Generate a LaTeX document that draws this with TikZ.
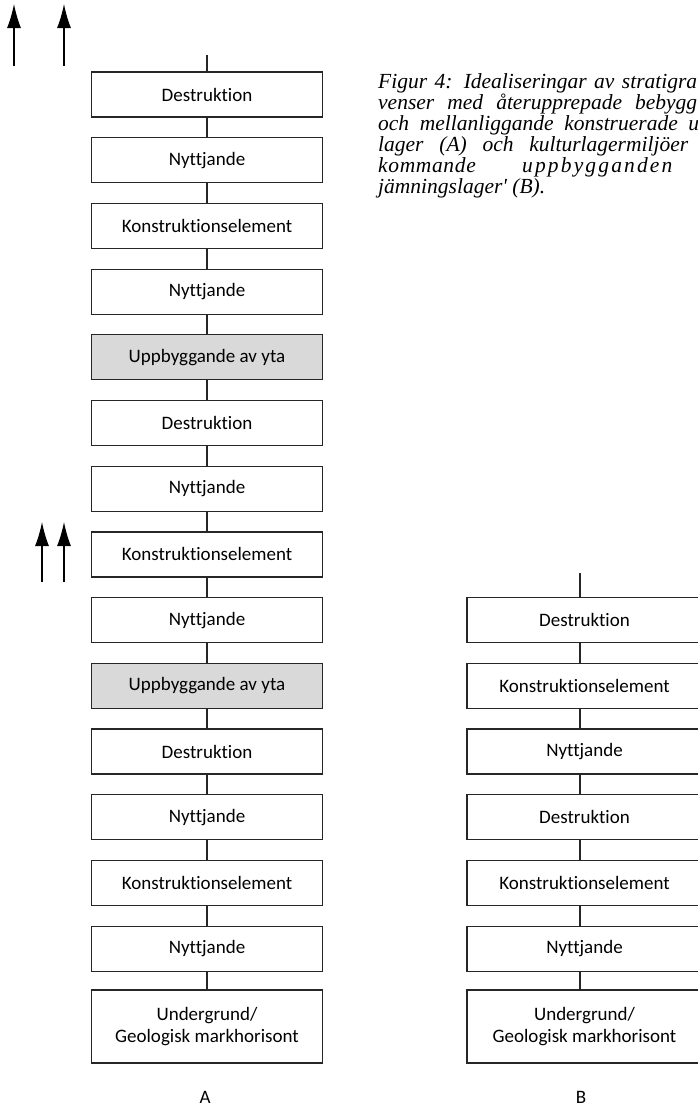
\documentclass[tikz,border=0pt]{standalone}
\usepackage{fontspec}
\setsansfont{Carlito}[Ligatures={NoCommon,NoRequired,NoContextual}]
\newfontfamily\capfont{Liberation Serif}
\usetikzlibrary{arrows.meta}
\begin{document}
\begin{tikzpicture}[x=1pt,y=-1pt,
  layer/.style={draw=black!85, line width=1.2pt, minimum width=231pt, minimum height=45pt,
    inner sep=0pt, font=\sffamily\fontsize{19}{22}\selectfont, align=center},
  wlayer/.style={layer, minimum width=235pt},
  surface/.style={layer, fill=black!15},
  base/.style={layer, minimum height=73pt},
  link/.style={draw=black!85, line width=1.2pt},
  uparrow/.style={line width=1.3pt, -{Latex[length=24pt,width=14pt]}},
  captext/.style={anchor=base west, inner sep=0pt, font=\capfont\itshape\fontsize{21.5}{21}\selectfont},
  collabel/.style={font=\sffamily\fontsize{19}{22}\selectfont}
]
\useasboundingbox (0,0) rectangle (697,1112);
% column A
\def\ax{207}
\node[layer]   (a1)  at (\ax, 94.5) {Destruktion};
\node[layer]   (a2)  at (\ax,160.2) {Nyttjande};
\node[layer]   (a3)  at (\ax,225.9) {Konstruktionselement};
\node[layer]   (a4)  at (\ax,291.6) {Nyttjande};
\node[surface] (a5)  at (\ax,357.3) {Uppbyggande av yta};
\node[layer]   (a6)  at (\ax,423.0) {Destruktion};
\node[layer]   (a7)  at (\ax,488.7) {Nyttjande};
\node[layer]   (a8)  at (\ax,554.4) {Konstruktionselement};
\node[layer]   (a9)  at (\ax,620.1) {Nyttjande};
\node[surface] (a10) at (\ax,685.8) {Uppbyggande av yta};
\node[layer]   (a11) at (\ax,751.5) {Destruktion};
\node[layer]   (a12) at (\ax,817.2) {Nyttjande};
\node[layer]   (a13) at (\ax,882.9) {Konstruktionselement};
\node[layer]   (a14) at (\ax,948.6) {Nyttjande};
\node[base]    (a15) at (\ax,1026.5) {Undergrund/\\Geologisk markhorisont};
\coordinate (atop) at (\ax,55);
\draw[link] (atop) -- (a1.north);
\foreach \i [evaluate=\i as \j using int(\i+1)] in {1,...,14}
  \draw[link] (a\i.south) -- (a\j.north);
% column B
\def\bx{584.5}
\node[wlayer] (b1) at (\bx,620.1) {Destruktion};
\node[wlayer] (b2) at (\bx,685.8) {Konstruktionselement};
\node[wlayer] (b3) at (\bx,751.5) {Nyttjande};
\node[wlayer] (b4) at (\bx,817.2) {Destruktion};
\node[wlayer] (b5) at (\bx,882.9) {Konstruktionselement};
\node[wlayer] (b6) at (\bx,948.6) {Nyttjande};
\node[wlayer, minimum height=73pt] (b7) at (\bx,1026.5) {Undergrund/\\Geologisk markhorisont};
\coordinate (btop) at (580,573);
\draw[link] (btop) -- ([xshift=-4.5pt]b1.north);
\foreach \i [evaluate=\i as \j using int(\i+1)] in {1,...,6}
  \draw[link] ([xshift=-4.5pt]b\i.south) -- ([xshift=-4.5pt]b\j.north);
% column labels
\node[collabel] (la) at (205,1097) {A};
\node[collabel] (lb) at (581,1097) {B};
% arrows
\coordinate (p1s) at (14,66);  \coordinate (p1e) at (14,4);
\coordinate (p2s) at (64,66);  \coordinate (p2e) at (64,4);
\coordinate (q1s) at (42,582); \coordinate (q1e) at (42,522);
\coordinate (q2s) at (64,582); \coordinate (q2e) at (64,522);
\draw[uparrow] (p1s) -- (p1e);
\draw[uparrow] (p2s) -- (p2e);
\draw[uparrow] (q1s) -- (q1e);
\draw[uparrow] (q2s) -- (q2e);
% caption
\node[captext] (c1) at (378,88)  {\makebox[319pt][s]{Figur 4: Idealiseringar av stratigra}};
\node[captext] (c2) at (378,109) {\makebox[319pt][s]{venser med återupprepade bebygg}};
\node[captext] (c3) at (378,130) {\makebox[321pt][s]{och mellanliggande konstruerade u}};
\node[captext] (c4) at (378,151) {\makebox[310pt][s]{lager (A) och kulturlagermiljöer}};
\node[captext] (c5a) at (378,172) {\addfontfeature{LetterSpace=3}kommande};
\node[captext] (c5b) at (522,172) {\addfontfeature{LetterSpace=10}uppbygganden};
\node[captext] (c6) at (378,193) {jämningslager' (B).};
\end{tikzpicture}
\end{document}
